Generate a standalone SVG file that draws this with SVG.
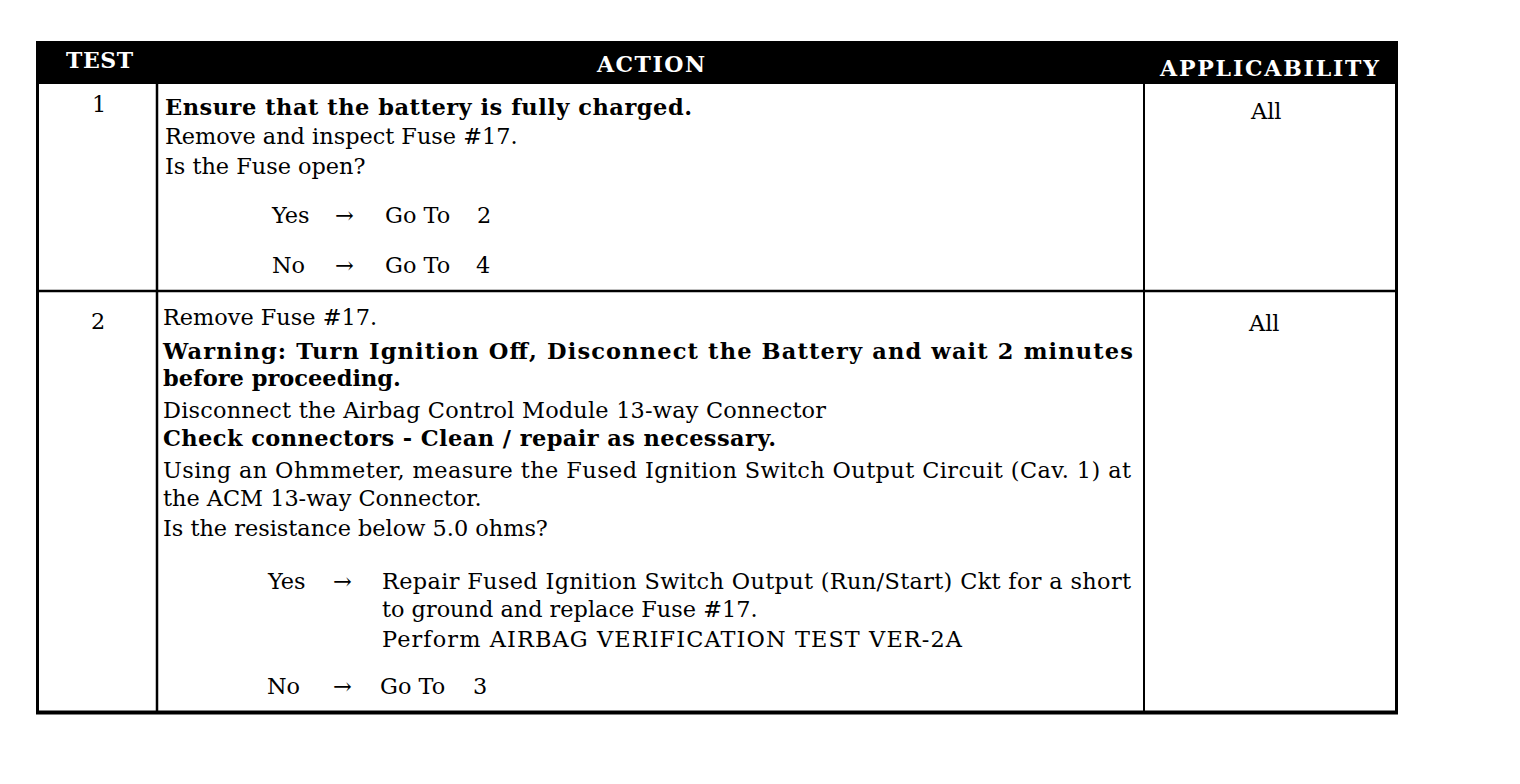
<svg xmlns="http://www.w3.org/2000/svg" width="1520" height="784" viewBox="0 0 1520 784">
<style>
.t{font-family:"DejaVu Serif","Liberation Serif",serif;font-size:22.4px;fill:#000}
.b{font-weight:bold;font-size:22.5px}
.h{font-family:"DejaVu Serif","Liberation Serif",serif;font-size:22px;font-weight:bold;fill:#fff}
.ln{stroke:#000;fill:none}
</style>
<rect width="1520" height="784" fill="#fff"/>
<g id="header">
<rect x="36" y="41" width="1362" height="43" fill="#000"/>
<text class="h" x="66" y="68" textLength="67">TEST</text>
<text class="h" x="597" y="72" textLength="108">ACTION</text>
<text class="h" x="1160" y="76" textLength="219">APPLICABILITY</text>
</g>
<g id="grid">
<line class="ln" x1="37.5" y1="84" x2="37.5" y2="714" stroke-width="3"/>
<line class="ln" x1="1396.5" y1="84" x2="1396.5" y2="714" stroke-width="3"/>
<line class="ln" x1="157" y1="84" x2="157" y2="712" stroke-width="2.5"/>
<line class="ln" x1="1144" y1="84" x2="1144" y2="712" stroke-width="2"/>
<line class="ln" x1="36" y1="291" x2="1398" y2="291" stroke-width="2.5"/>
<line class="ln" x1="36" y1="712.5" x2="1398" y2="712.5" stroke-width="4"/>
</g>
<g id="test1">
<text class="t" x="92" y="112">1</text>
<text class="t b" x="165" y="115" textLength="527">Ensure that the battery is fully charged.</text>
<text class="t" x="165" y="144">Remove and inspect Fuse #17.</text>
<text class="t" x="165" y="174">Is the Fuse open?</text>
<text class="t" x="272" y="223">Yes</text>
<text class="t" x="335" y="223">→</text>
<text class="t" x="385" y="223">Go To</text>
<text class="t" x="477" y="223">2</text>
<text class="t" x="272" y="273">No</text>
<text class="t" x="335" y="273">→</text>
<text class="t" x="385" y="273">Go To</text>
<text class="t" x="476" y="273">4</text>
<text class="t" x="1251" y="119">All</text>
</g>
<g id="test2">
<text class="t" x="91" y="329">2</text>
<text class="t" x="163" y="325">Remove Fuse #17.</text>
<text class="t b" x="163" y="359" textLength="970">Warning: Turn Ignition Off, Disconnect the Battery and wait 2 minutes</text>
<text class="t b" x="163" y="386">before proceeding.</text>
<text class="t" x="163" y="418" textLength="663">Disconnect the Airbag Control Module 13-way Connector</text>
<text class="t b" x="163" y="446" textLength="613">Check connectors - Clean / repair as necessary.</text>
<text class="t" x="163" y="478" textLength="968">Using an Ohmmeter, measure the Fused Ignition Switch Output Circuit (Cav. 1) at</text>
<text class="t" x="163" y="506">the ACM 13-way Connector.</text>
<text class="t" x="163" y="536">Is the resistance below 5.0 ohms?</text>
<text class="t" x="268" y="589">Yes</text>
<text class="t" x="333" y="589">→</text>
<text class="t" x="382" y="589" textLength="749">Repair Fused Ignition Switch Output (Run/Start) Ckt for a short</text>
<text class="t" x="382" y="617">to ground and replace Fuse #17.</text>
<text class="t" x="382" y="647" textLength="580">Perform AIRBAG VERIFICATION TEST VER-2A</text>
<text class="t" x="267" y="694">No</text>
<text class="t" x="333" y="694">→</text>
<text class="t" x="380" y="694">Go To</text>
<text class="t" x="473" y="694">3</text>
<text class="t" x="1249" y="331">All</text>
</g>
</svg>
